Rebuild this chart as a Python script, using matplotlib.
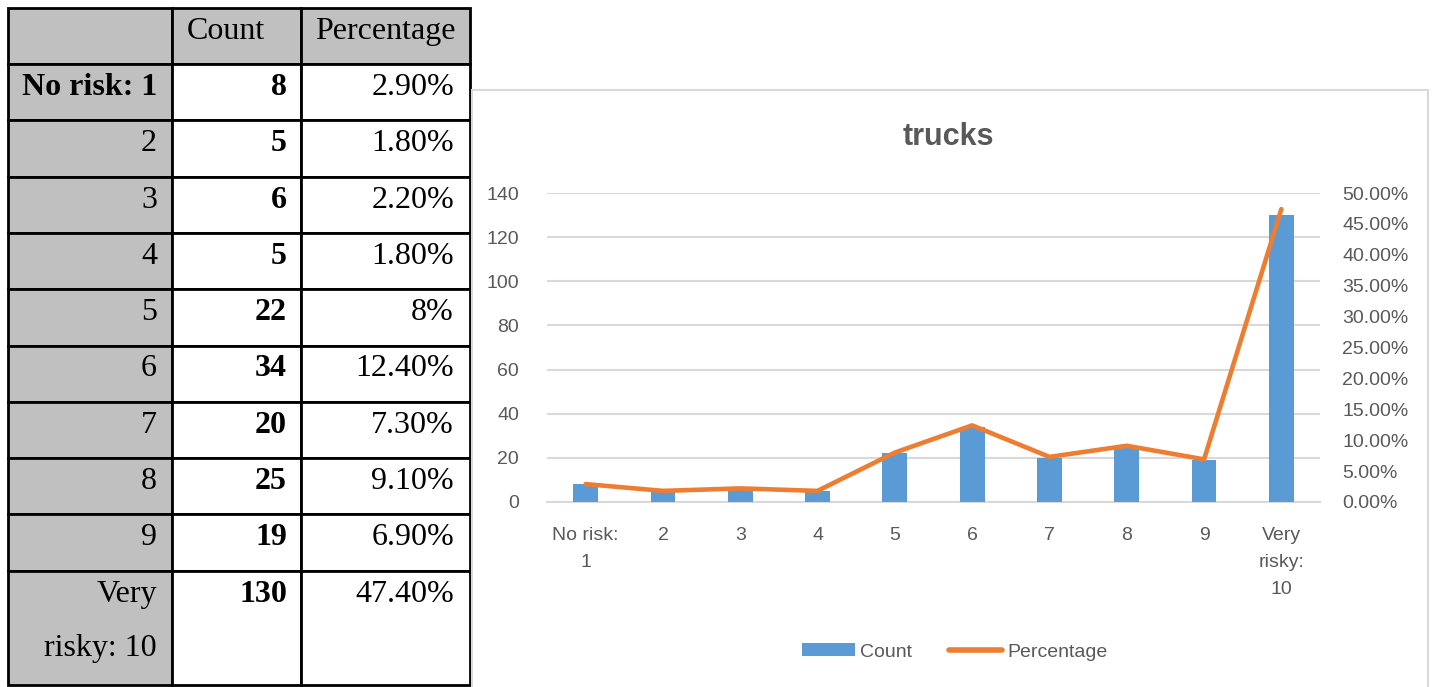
import numpy as np
import matplotlib
matplotlib.use('Agg')
import matplotlib.pyplot as plt
from matplotlib.patches import Rectangle, Patch
from matplotlib.lines import Line2D
from matplotlib.ticker import FuncFormatter

row_labels = ['No risk: 1', '2', '3', '4', '5', '6', '7', '8', '9', 'Very\nrisky: 10']
counts = [8, 5, 6, 5, 22, 34, 20, 25, 19, 130]
pct_text = ['2.90%', '1.80%', '2.20%', '1.80%', '8%', '12.40%', '7.30%', '9.10%', '6.90%', '47.40%']
pct = [2.9, 1.8, 2.2, 1.8, 8, 12.4, 7.3, 9.1, 6.9, 47.4]
cat_labels = ['No risk:\n1', '2', '3', '4', '5', '6', '7', '8', '9', 'Very\nrisky:\n10']

W, H = 1433, 687
fig = plt.figure(figsize=(W / 100, H / 100), dpi=100)

# ---- table on the left, drawn in pixel coords ----
tb = fig.add_axes([0, 0, 1, 1])
tb.set_xlim(0, W)
tb.set_ylim(H, 0)
tb.axis('off')

cols = [8, 172, 301, 470]
row_h = 56.3
tops = [8, 64] + [64 + i * row_h for i in range(1, 10)]
bottoms = tops[1:] + [685]
gray = '#C0C0C0'
serif = 'Liberation Serif'
fs = 23

for r in range(11):
    for c in range(3):
        face = gray if (r == 0 or c == 0) else 'white'
        tb.add_patch(Rectangle((cols[c], tops[r]), cols[c + 1] - cols[c],
                               bottoms[r] - tops[r], facecolor=face,
                               edgecolor='black', linewidth=2))

tb.text(cols[1] + 15, tops[0] + 31, 'Count', family=serif, fontsize=fs, va='baseline')
tb.text(cols[2] + 14, tops[0] + 31, 'Percentage', family=serif, fontsize=fs, va='baseline')

for i in range(10):
    y = tops[i + 1] + 31
    lab = row_labels[i]
    w = 'bold' if i == 0 else 'normal'
    if '\n' in lab:
        a, b = lab.split('\n')
        tb.text(cols[1] - 15, y, a, family=serif, fontsize=fs, ha='right', va='baseline')
        tb.text(cols[1] - 15, y + 54, b, family=serif, fontsize=fs, ha='right', va='baseline')
    else:
        tb.text(cols[1] - 15, y, lab, family=serif, fontsize=fs, ha='right',
                va='baseline', weight=w)
    tb.text(cols[2] - 14, y, str(counts[i]), family=serif, fontsize=fs, ha='right',
            va='baseline', weight='bold')
    tb.text(cols[3] - 16, y, pct_text[i], family=serif, fontsize=fs, ha='right', va='baseline')

# chart panel border
tb.add_patch(Rectangle((472, 90), 956, 610, facecolor='white', edgecolor='#D9D9D9',
                       linewidth=1.5, zorder=5))

# ---- combo chart ----
sans = 'Liberation Sans'
txt = '#595959'
grid = '#D9D9D9'
lsize = 14
x0, x1, y0, y1 = 547, 1320, 502, 193
ax = fig.add_axes([x0 / W, (H - y0) / H, (x1 - x0) / W, (y0 - y1) / H], zorder=10)
ax.patch.set_alpha(0)
x = np.arange(len(counts))
ax.bar(x, counts, width=0.32, color='#5B9BD5', zorder=3)
ax.set_xlim(-0.5, len(counts) - 0.5)
ax.set_ylim(0, 140)
ax.set_yticks(range(0, 141, 20))
ax.yaxis.grid(True, color=grid, linewidth=1.5, zorder=0)
ax.set_axisbelow(True)
for s in ['top', 'left', 'right']:
    ax.spines[s].set_visible(False)
ax.spines['bottom'].set_color(grid)
ax.spines['bottom'].set_linewidth(1.5)
ax.set_xticks(x)
ax.set_xticklabels(cat_labels)
ax.tick_params(axis='both', length=0, colors=txt, labelsize=lsize)
ax.tick_params(axis='y', pad=20)
ax.tick_params(axis='x', pad=18)
for lb in ax.get_xticklabels() + ax.get_yticklabels():
    lb.set_family(sans)
for lb in ax.get_xticklabels():
    lb.set_linespacing(1.75)
    lb.set_verticalalignment('top')

ax2 = ax.twinx()
ax2.plot(x, np.array(pct) / 100, color='#ED7D31', linewidth=3.3, zorder=4,
         solid_capstyle='round', solid_joinstyle='round')
ax2.set_ylim(0, 0.5)
ax2.set_yticks(np.arange(0, 0.501, 0.05))
ax2.yaxis.set_major_formatter(FuncFormatter(lambda v, p: f'{v * 100:.2f}%'))
for s in ['top', 'left', 'right', 'bottom']:
    ax2.spines[s].set_visible(False)
ax2.tick_params(axis='y', length=0, colors=txt, labelsize=lsize, pad=16)
for lb in ax2.get_yticklabels():
    lb.set_family(sans)

fig.text(948 / W, 1 - 137 / H, 'trucks', ha='center', va='center', fontsize=22,
         weight='bold', color=txt, family=sans, zorder=20)

handles = [Patch(facecolor='#5B9BD5', label='Count'),
           Line2D([0], [0], color='#ED7D31', linewidth=4, label='Percentage',
                  solid_capstyle='round')]
leg = fig.legend(handles=handles, loc='center', bbox_to_anchor=(955 / W, 1 - 652 / H),
                 ncol=2, frameon=False, handlelength=2.7, handleheight=0.6,
                 handletextpad=0.3, columnspacing=1.9,
                 prop={'family': sans, 'size': lsize})
leg.set_zorder(20)
for t in leg.get_texts():
    t.set_color(txt)

fig.savefig('out.png', dpi=100)
